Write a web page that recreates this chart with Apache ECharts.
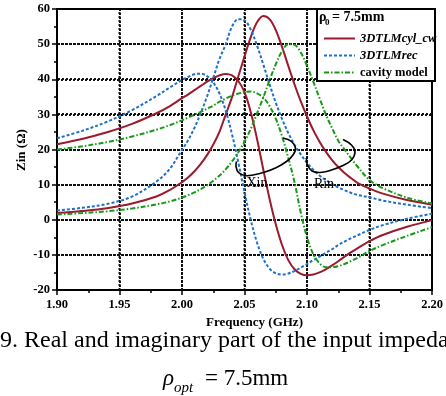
<!DOCTYPE html>
<html><head><meta charset="utf-8">
<script src="https://cdn.jsdelivr.net/npm/echarts@6/dist/echarts.min.js"></script>
<style>html,body{margin:0;padding:0;background:#fff;}#c{width:446px;height:396px;}</style>
</head><body><div id="c"></div>
<script>
// Frequency samples (GHz)
const freq = [1.90,1.92,1.94,1.96,1.98,1.99,2.00,2.005,2.01,2.015,2.02,2.025,2.03,2.035,2.04,2.045,2.05,2.055,2.06,2.065,2.07,2.075,2.08,2.085,2.09,2.095,2.10,2.105,2.11,2.115,2.12,2.125,2.13,2.135,2.14,2.15,2.16,2.18,2.20];
// 3DTLMcyl_cw
const cylRe = [1.9,2.5,3.3,4.6,6.7,8.4,10.7,12.1,13.8,15.9,18.4,21.4,25.1,30.0,34.9,40.8,46.5,52.0,56.2,58.0,57.1,54.0,49.2,43.8,38.5,33.7,29.4,25.5,22.2,19.4,17.0,15.0,13.3,11.9,10.6,8.9,7.5,5.6,4.3];
const cylIm = [21.5,23.0,24.9,27.3,30.4,32.3,34.6,35.7,36.9,38.1,39.3,40.3,41.1,41.5,41.1,39.5,36.3,30.6,23.0,14.3,6.0,-1.3,-7.2,-11.5,-14.1,-15.4,-15.8,-15.6,-15.0,-14.1,-13.0,-11.8,-10.5,-9.3,-8.2,-6.1,-4.4,-2.0,-0.1];
// 3DTLMrec
const recRe = [2.6,3.4,4.5,6.6,11.0,14.4,19.9,22.7,26.2,30.4,35.1,40.4,45.8,50.0,55.0,57.1,56.8,54.1,49.6,44.2,38.6,33.3,28.7,24.7,21.3,18.6,16.2,14.2,12.6,11.3,10.2,9.2,8.4,7.7,7.1,6.4,5.5,4.3,3.3];
const recIm = [23.2,25.3,27.9,31.2,35.3,37.6,39.8,40.7,41.45,41.6,40.9,39.1,35.9,31.0,24.3,16.4,7.8,-0.1,-6.5,-11.1,-13.9,-15.25,-15.6,-15.3,-14.6,-13.6,-12.6,-11.5,-10.5,-9.4,-8.4,-7.2,-6.2,-5.3,-4.5,-2.9,-1.6,0.3,1.7];
// cavity model
const cavRe = [1.5,1.9,2.4,3.2,4.4,5.2,6.3,7.0,7.8,8.7,9.8,11.1,12.6,14.4,16.6,19.2,22.2,25.9,30.3,34.8,39.7,44.3,48.0,50.0,49.8,47.6,43.8,39.3,34.6,30.0,26.1,22.5,20.0,17.6,15.3,11.3,9.1,6.3,4.6];
const cavIm = [20.0,20.9,22.1,23.7,25.7,26.9,28.3,29.1,29.9,30.7,31.6,32.5,33.6,34.5,35.3,35.9,36.4,36.5,36.0,34.8,32.4,28.8,23.8,17.6,10.7,2.0,-5.0,-9.8,-12.4,-13.5,-13.5,-13.2,-12.6,-11.8,-10.9,-8.9,-7.3,-4.6,-2.1];
const seriesNames = ['3DTLMcyl_cw','3DTLMrec','cavity model'];
// axis ranges and grid-line positions
const xRange = [1.90, 2.20];
const yRange = [-20, 60];
const xGridTicks = [1.95,2.00,2.05,2.10,2.15];
const yGridTicks = [-10,0,10,20,30,40,50];

const SERIF = "'Liberation Serif','Times New Roman',serif";
const chart = echarts.init(document.getElementById('c'), null, {renderer:'canvas'});
const pairs = a => freq.map((f,i)=>[f,a[i]]);
const styles = [
  {color:'#9a1b2b', type:'solid'},
  {color:'#1f6fcb', type:[3,2]},
  {color:'#159a15', type:[5,2,1.5,2]}
];
const gridStyle = {color:'#111111', width:2, type:[2,2], opacity:1};
const series = [];
const dataSets = [[cylRe,cylIm],[recRe,recIm],[cavRe,cavIm]];
dataSets.forEach((pair,k)=>{
  pair.forEach(arr=>{
    series.push({
      name: seriesNames[k], type:'line', data: pairs(arr), smooth:0.35,
      symbol:'none', showSymbol:false,
      lineStyle:{color:styles[k].color, width:2, type:styles[k].type},
      itemStyle:{color:styles[k].color}, z:3
    });
  });
});
xGridTicks.forEach(v=>series.push({type:'line', name:'gridX', data:[[v,yRange[0]],[v,yRange[1]]], symbol:'none', showSymbol:false, z:2, lineStyle:gridStyle, itemStyle:{color:'#111111'}}));

const tickFont = {fontFamily:SERIF, fontWeight:'bold', fontSize:12.5, color:'#000'};
const frameAxis = {axisLine:{show:true, onZero:false, lineStyle:{color:'#000', width:2}}, axisTick:{show:false}, axisLabel:{show:false}, splitLine:{show:false}};
const staticGraphics = [
  {id:'yname', type:'text', z:50, x:22, y:150, rotation:Math.PI/2, style:{text:'Zin (Ω)', font:"bold 13px "+SERIF, fill:'#000', align:'center', verticalAlign:'middle'}},
  {id:'lgbox', type:'rect', z:100, shape:{x:317, y:9, width:118, height:72}, style:{fill:'#fff', stroke:'#000', lineWidth:2}},
  {id:'lgt1', type:'text', z:110, left:319, top:10, style:{text:'ρ', font:"bold 14px "+SERIF, fill:'#000'}},
  {id:'lgt2', type:'text', z:110, left:325, top:18, style:{text:'0', font:"bold 9px "+SERIF, fill:'#000'}},
  {id:'lgt3', type:'text', z:110, left:332, top:10, style:{text:'= 7.5mm', font:"bold 14px "+SERIF, fill:'#000'}},
  {id:'arcX', type:'polyline', z:50, shape:{smooth:0.4, points:[[283,138],[291.5,141.5],[295.5,148.5],[293,155],[286.5,161.5],[276.5,167.5],[265,172],[253,175],[245,175.5],[238.5,172.5],[236,166.5],[236.5,161.5]]}, style:{stroke:'#000', lineWidth:1.6, fill:null}},
  {id:'arcR', type:'polyline', z:50, shape:{smooth:0.4, points:[[343,139.5],[351.5,145],[355,152],[351.5,160],[343,165.5],[330,170.5],[320,172.5],[312,171],[307.5,165],[306.3,158]]}, style:{stroke:'#000', lineWidth:1.6, fill:null}},
  {id:'lblX', type:'text', z:50, x:257, y:183, style:{text:'Xin', font:"14px "+SERIF, fill:'#000', align:'center', verticalAlign:'middle'}},
  {id:'lblR', type:'text', z:50, x:324, y:184.5, style:{text:'Rin', font:"14px "+SERIF, fill:'#000', align:'center', verticalAlign:'middle'}},
  {id:'cap1', type:'text', z:50, x:0, y:341, style:{text:'9. Real and imaginary part of the input impeda', font:"24px "+SERIF, fill:'#000', align:'left', verticalAlign:'middle'}},
  {id:'cap2', type:'text', z:50, x:163, y:379, style:{text:'ρ', font:"italic 23px "+SERIF, fill:'#000', align:'left', verticalAlign:'middle'}},
  {id:'cap3', type:'text', z:50, x:174, y:388, style:{text:'opt', font:"italic 15px "+SERIF, fill:'#000', align:'left', verticalAlign:'middle'}},
  {id:'cap4', type:'text', z:50, x:205, y:379, style:{text:'= 7.5mm', font:"23px "+SERIF, fill:'#000', align:'left', verticalAlign:'middle'}}
];
chart.setOption({
  animation:false,
  backgroundColor:'#fff',
  grid:{left:57, right:9, top:9, bottom:106, containLabel:false},
  xAxis:[{
    type:'value', min:xRange[0], max:xRange[1], interval:0.05, position:'bottom',
    name:'Frequency (GHz)', nameLocation:'middle', nameGap:24,
    nameTextStyle:{fontFamily:SERIF, fontWeight:'bold', fontSize:13, color:'#000', padding:[0,0,0,20]},
    axisLine:{show:true, onZero:false, lineStyle:{color:'#000', width:2}},
    axisTick:{show:true, inside:false, length:5, lineStyle:{color:'#000', width:1.5}},
    minorTick:{show:true, splitNumber:2, length:3, lineStyle:{color:'#000', width:1.5}},
    axisLabel:{...tickFont, margin:8, formatter:v=>v.toFixed(2), showMinLabel:true, showMaxLabel:true},
    splitLine:{show:true, lineStyle:{color:'#111111', width:2, type:[2,2]}}
  },{type:'value', min:xRange[0], max:xRange[1], interval:0.05, position:'top', ...frameAxis}],
  yAxis:[{
    type:'value', min:yRange[0], max:yRange[1], interval:10, position:'left',
    axisLine:{show:true, onZero:false, lineStyle:{color:'#000', width:2}},
    axisTick:{show:true, inside:false, length:5, lineStyle:{color:'#000', width:1.5}},
    minorTick:{show:true, splitNumber:2, length:3, lineStyle:{color:'#000', width:1.5}},
    axisLabel:{...tickFont, margin:7},
    splitLine:{show:true, lineStyle:{color:'#111111', width:2, type:[2,2]}}
  },{type:'value', min:yRange[0], max:yRange[1], interval:10, position:'right', ...frameAxis}],
  legend:{
    data:seriesNames, orient:'vertical', left:318, top:27,
    itemWidth:31, itemHeight:10, itemGap:4, z:120,
    itemStyle:{opacity:0},
    formatter: n => n==='cavity model' ? '{n|'+n+'}' : '{i|'+n+'}',
    textStyle:{fontFamily:SERIF, fontSize:12.5, color:'#000', lineHeight:12,
      rich:{i:{fontFamily:SERIF, fontSize:12.5, fontWeight:'bold', fontStyle:'italic', color:'#000', lineHeight:12},
            n:{fontFamily:SERIF, fontSize:12.5, fontWeight:'bold', color:'#000', lineHeight:12}}}
  },
  graphic: staticGraphics,
  series
});
// Horizontal dotted grid lines, positioned through the y axis scale
const hLines = [];
yGridTicks.forEach((v,i)=>{
  const a = chart.convertToPixel({xAxisIndex:0, yAxisIndex:0}, [xRange[0], v]);
  const b = chart.convertToPixel({xAxisIndex:0, yAxisIndex:0}, [xRange[1], v]);
  const y = Math.round(a[1]);
  for (let x = a[0] + 2; x < b[0] - 1; x += 4) {
    hLines.push([x, y]);
  }
  hLines.push(null);
});
const dotEls = [];
yGridTicks.forEach((v,i)=>{
  const a = chart.convertToPixel({xAxisIndex:0, yAxisIndex:0}, [xRange[0], v]);
  const b = chart.convertToPixel({xAxisIndex:0, yAxisIndex:0}, [xRange[1], v]);
  const y = Math.round(a[1]);
  const pts = [];
  for (let x = a[0] + 1; x < b[0] - 1; x += 4) {
    dotEls.push({type:'rect', z:1, silent:true, shape:{x:x, y:y-1, width:2, height:2}, style:{fill:'#111111'}});
  }
});
chart.setOption({graphic: staticGraphics.concat([{id:'hgrid', type:'group', z:1, silent:true, children:dotEls}])});
</script></body></html>
